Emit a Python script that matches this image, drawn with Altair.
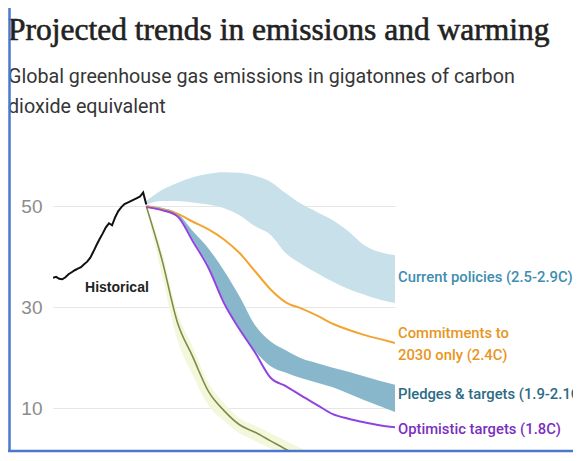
import altair as alt
import pandas as pd

# ---------------- data ----------------
hist_years = list(range(1990, 2021))
hist_vals = [35.8, 36.0, 35.6, 35.5, 35.9, 36.5, 36.9, 37.3, 37.6, 37.9,
             38.5, 39.0, 39.8, 41.0, 42.3, 43.5, 44.6, 45.8, 46.6, 46.2,
             47.8, 49.0, 49.8, 50.4, 50.7, 51.0, 51.3, 51.6, 51.9, 52.7, 50.3]

proj_years = list(range(2020, 2101, 5))
current_hi = [51.0, 53.2, 54.6, 55.7, 56.4, 56.7, 56.6, 56.0, 54.8, 52.5,
              50.4, 48.8, 47.2, 45.0, 42.3, 40.9, 40.3]
current_lo = [50.3, 51.0, 51.0, 50.7, 50.3, 49.6, 48.2, 46.0, 44.3, 40.6,
              38.5, 36.7, 35.0, 33.6, 32.5, 31.5, 30.8]
commit_vals = [50.0, 49.4, 48.5, 46.9, 45.4, 43.4, 40.7, 37.1, 33.5, 30.9,
               29.7, 28.3, 26.7, 25.5, 24.5, 23.7, 22.9]
pledge_hi = [50.1, 49.7, 48.6, 45.0, 41.6, 37.2, 32.1, 26.4, 23.2, 21.4,
             19.8, 18.9, 18.0, 17.2, 16.3, 15.4, 14.6]
pledge_lo = [49.9, 49.4, 48.2, 43.4, 38.2, 31.2, 25.9, 21.3, 18.3, 17.0,
             15.9, 15.0, 14.1, 12.9, 11.6, 10.4, 9.2]
optimistic_vals = [49.8, 49.2, 48.0, 43.0, 37.8, 30.8, 25.6, 21.0, 16.0, 14.3,
                   12.4, 10.6, 8.8, 7.9, 7.2, 6.6, 6.2]

green_years = list(range(2020, 2076, 5))
green_vals = [50.0, 39.5, 27.0, 20.1, 13.3, 9.5, 6.7, 5.2, 3.5, 1.8, 0.3, -1.2]
green_hi = [50.3, 41.0, 29.0, 22.0, 15.0, 11.0, 8.0, 6.5, 5.0, 3.5, 2.0, 0.5]
green_lo = [49.7, 36.5, 23.5, 16.5, 10.5, 7.5, 5.0, 3.5, 2.0, 0.3, -1.5, -3.0]

label_texts = ["Current policies (2.5-2.9C)", "Commitments to", "2030 only (2.4C)",
               "Pledges & targets (1.9-2.1C)", "Optimistic targets (1.8C)"]
label_years = [2100, 2100, 2100, 2100, 2100]
label_vals = [35.7, 24.7, 20.3, 12.6, 5.6]
label_colors = ["#3f8db0", "#e8961e", "#e8961e", "#2d6b84", "#7a2fc0"]

hist_label = "Historical"
hist_label_year = 2000.3
hist_label_val = 33.8

title_text = "Projected trends in emissions and warming"
subtitle_lines = ["Global greenhouse gas emissions in gigatonnes of carbon",
                  "dioxide equivalent"]

y_ticks = [10, 30, 50]

# ---------------- tables ----------------
hist_df = pd.DataFrame({"year": hist_years, "value": hist_vals})
current_df = pd.DataFrame({"year": proj_years, "lo": current_lo, "hi": current_hi})
pledge_df = pd.DataFrame({"year": proj_years, "lo": pledge_lo, "hi": pledge_hi})
commit_df = pd.DataFrame({"year": proj_years, "value": commit_vals})
optim_df = pd.DataFrame({"year": proj_years, "value": optimistic_vals})
green_df = pd.DataFrame({"year": green_years, "value": green_vals,
                         "lo": green_lo, "hi": green_hi})
label_df = pd.DataFrame({"year": label_years, "value": label_vals,
                         "text": label_texts, "color": label_colors})
hist_label_df = pd.DataFrame({"year": [hist_label_year], "value": [hist_label_val],
                              "text": [hist_label]})
title_df = pd.DataFrame({"text": [title_text]})
sub1_df = pd.DataFrame({"text": [subtitle_lines[0]]})
sub2_df = pd.DataFrame({"text": [subtitle_lines[1]]})

W, H = 342, 309
PAD_L, PAD_T = 45, 135
SANS = "Roboto"

x_scale = alt.Scale(domain=[1990, 2100], nice=False, zero=False)
y_scale = alt.Scale(domain=[1.3, 62.5], nice=False, zero=False)
y_axis = alt.Axis(values=y_ticks, title=None, domain=False, ticks=False,
                  grid=True, gridColor="#e6e6e6", gridWidth=1.2,
                  labelColor="#8c8c8c", labelFontSize=19, labelFont="Liberation Sans",
                  labelPadding=11)

X = alt.X("year:Q", scale=x_scale, axis=None)


def Y(field):
    return alt.Y(f"{field}:Q", scale=y_scale, axis=y_axis)


current_band = alt.Chart(current_df).mark_area(
    color="#c8e0ea", interpolate="monotone", clip=True
).encode(x=X, y=Y("lo"), y2="hi:Q")

green_band = alt.Chart(green_df).mark_area(
    color="#f3f7dc", interpolate="monotone", clip=True
).encode(x=X, y=Y("lo"), y2="hi:Q")

pledge_band = alt.Chart(pledge_df).mark_area(
    color="#88b6ca", interpolate="monotone", clip=True
).encode(x=X, y=Y("lo"), y2="hi:Q")

green_line = alt.Chart(green_df).mark_line(
    color="#7e8c48", strokeWidth=1.6, interpolate="monotone", clip=True
).encode(x=X, y=Y("value"))

commit_line = alt.Chart(commit_df).mark_line(
    color="#f2a531", strokeWidth=2, interpolate="monotone", clip=True
).encode(x=X, y=Y("value"))

optim_line = alt.Chart(optim_df).mark_line(
    color="#8e44e0", strokeWidth=2, interpolate="monotone", clip=True
).encode(x=X, y=Y("value"))

hist_line = alt.Chart(hist_df).mark_line(
    color="#111111", strokeWidth=2, clip=True
).encode(x=X, y=Y("value"))

labels = alt.Chart(label_df).mark_text(
    align="left", baseline="middle", dx=3, font=SANS, fontSize=14.8,
    fontWeight=500
).encode(x=X, y=Y("value"), text="text:N", color=alt.Color("color:N", scale=None))

hist_text = alt.Chart(hist_label_df).mark_text(
    align="left", baseline="middle", font="Liberation Sans", fontSize=14,
    fontWeight="bold", color="#222222"
).encode(x=X, y=Y("value"), text="text:N")

title_mark = alt.Chart(title_df).mark_text(
    align="left", baseline="alphabetic", font="Liberation Serif", fontSize=31.5,
    fontWeight="normal", color="#222222", stroke="#222222", strokeWidth=0.6
).encode(x=alt.value(-PAD_L), y=alt.value(40 - 8 - PAD_T), text="text:N")

sub1_mark = alt.Chart(sub1_df).mark_text(
    align="left", baseline="alphabetic", font=SANS, fontSize=19.7,
    color="#363636"
).encode(x=alt.value(-PAD_L), y=alt.value(83 - 8 - PAD_T), text="text:N")

sub2_mark = alt.Chart(sub2_df).mark_text(
    align="left", baseline="alphabetic", font=SANS, fontSize=19.7,
    color="#363636"
).encode(x=alt.value(-PAD_L), y=alt.value(113 - 8 - PAD_T), text="text:N")

border_left = alt.Chart(hist_label_df).mark_rule(
    color="#4a78cc", strokeWidth=2.5
).encode(x=alt.value(-PAD_L + 1.5), y=alt.value(-PAD_T), y2=alt.value(H))

border_bottom = alt.Chart(hist_label_df).mark_rule(
    color="#4a78cc", strokeWidth=2.5
).encode(x=alt.value(-PAD_L), x2=alt.value(520), y=alt.value(H - 1))

chart = alt.layer(
    current_band, green_band, pledge_band, green_line, commit_line,
    optim_line, hist_line, labels, hist_text, title_mark, sub1_mark, sub2_mark,
    border_left, border_bottom
).properties(
    width=W,
    height=H,
    padding={"left": PAD_L, "top": PAD_T, "right": 178, "bottom": 1},
    autosize=alt.AutoSizeParams(type="none"),
).configure_view(stroke=None)

chart.save("out.html", embed_options={"renderer": "svg", "actions": False})
